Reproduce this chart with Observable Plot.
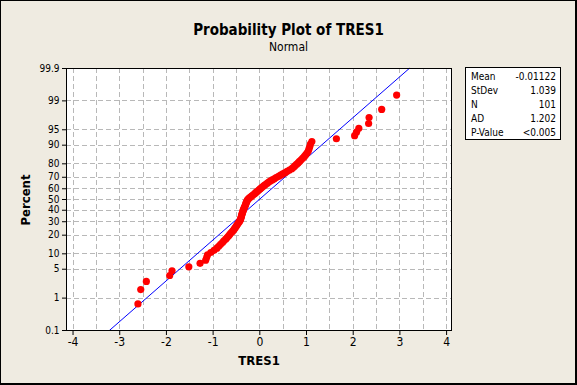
<!DOCTYPE html>
<html><head><meta charset="utf-8">
<script src="https://cdn.jsdelivr.net/npm/d3@7"></script>
<script src="https://cdn.jsdelivr.net/npm/@observablehq/plot@0.6"></script>
<style>
html,body{margin:0;padding:0;background:#EFEBE1;}
#wrap{position:relative;width:577px;height:385px;background:#EFEBE1;overflow:hidden;font-family:"DejaVu Sans Condensed","DejaVu Sans",sans-serif;color:#000;}
#border{position:absolute;left:0;top:0;width:577px;height:385px;box-sizing:border-box;border:1px solid #000;border-right-width:2px;border-bottom-width:2px;pointer-events:none;}
#chart{position:absolute;left:0;top:0;}
#title{position:absolute;left:0;top:21px;width:577px;text-align:center;font-weight:bold;font-size:15px;line-height:18px;}
#subtitle{position:absolute;left:0;top:40px;width:577px;text-align:center;font-size:12px;line-height:15px;}
#ylab{position:absolute;left:25px;top:200px;transform:translate(-50%,-50%) rotate(-90deg);font-weight:bold;font-size:13px;white-space:nowrap;}
#xlab{position:absolute;left:259px;top:360px;transform:translate(-50%,-50%);font-weight:bold;font-size:13px;}
#stats{position:absolute;left:465px;top:67px;width:96px;height:73px;box-sizing:border-box;background:#fff;border:1px solid #000;padding:2px 4px 0 5px;font-size:10px;line-height:14px;}
.row{display:flex;justify-content:space-between;}
</style>
</head><body>
<div id="wrap">
  <div id="chart"></div>
  <div id="title">Probability Plot of TRES1</div>
  <div id="subtitle">Normal</div>
  <div id="ylab">Percent</div>
  <div id="xlab">TRES1</div>
  <div id="stats"></div>
  <div id="border"></div>
</div>
<script>
// Sorted residuals (TRES1)
const tres1 = [
 -2.61,-2.55,-2.43,-1.93,-1.88,-1.52,-1.28,-1.16,-1.14,-1.12,
 -1.05,-0.98,-0.92,-0.88,-0.84,-0.80,-0.77,-0.73,-0.70,-0.67,
 -0.645,-0.62,-0.59,-0.565,-0.545,-0.525,-0.505,-0.49,-0.47,-0.455,
 -0.435,-0.42,-0.41,-0.405,-0.395,-0.39,-0.385,-0.375,-0.37,-0.36,
 -0.355,-0.345,-0.335,-0.325,-0.315,-0.305,-0.30,-0.29,-0.28,-0.27,
 -0.26,-0.235,-0.21,-0.18,-0.155,-0.125,-0.10,-0.075,-0.045,-0.02,
 0.005,0.035,0.06,0.09,0.12,0.155,0.185,0.22,0.265,0.31,
 0.35,0.40,0.445,0.49,0.54,0.585,0.635,0.685,0.72,0.75,
 0.785,0.82,0.85,0.885,0.92,0.955,0.985,1.015,1.04,1.055,
 1.07,1.085,1.115,1.64,2.03,2.07,2.12,2.33,2.34,2.61,
 2.93
];
const pctTicks = [0.1,1,5,10,20,30,40,50,60,70,80,90,95,99,99.9];
const xTicks = [-4,-3,-2,-1,0,1,2,3,4];
const xGrid = [-4,-3.5,-3,-2.5,-2,-1.5,-1,-0.5,0,0.5,1,1.5,2,2.5,3,3.5,4];
const statLabels = ["Mean","StDev","N","AD","P-Value"];
const statValues = ["-0.01122","1.039","101","1.202","<0.005"];
const fitMean = -0.01122, fitSD = 1.039;

// inverse standard normal CDF (Acklam)
function invNorm(p){
  const a=[-3.969683028665376e+01,2.209460984245205e+02,-2.759285104469687e+02,1.383577518672690e+02,-3.066479806614716e+01,2.506628277459239e+00];
  const b=[-5.447609879822406e+01,1.615858368580409e+02,-1.556989798598866e+02,6.680131188771972e+01,-1.328068155288572e+01];
  const c=[-7.784894002430293e-03,-3.223964580411365e-01,-2.400758277161838e+00,-2.549732539343734e+00,4.374664141464968e+00,2.938163982698783e+00];
  const d=[7.784695709041462e-03,3.224671290700398e-01,2.445134137142996e+00,3.754408661907416e+00];
  const pl=0.02425, ph=1-pl; let q,r;
  if(p<pl){q=Math.sqrt(-2*Math.log(p));return (((((c[0]*q+c[1])*q+c[2])*q+c[3])*q+c[4])*q+c[5])/((((d[0]*q+d[1])*q+d[2])*q+d[3])*q+1);}
  if(p<=ph){q=p-0.5;r=q*q;return (((((a[0]*r+a[1])*r+a[2])*r+a[3])*r+a[4])*r+a[5])*q/(((((b[0]*r+b[1])*r+b[2])*r+b[3])*r+b[4])*r+1);}
  q=Math.sqrt(-2*Math.log(1-p));return -(((((c[0]*q+c[1])*q+c[2])*q+c[3])*q+c[4])*q+c[5])/((((d[0]*q+d[1])*q+d[2])*q+d[3])*q+1);
}

const n = tres1.length;
const sorted = tres1.slice().sort((a,b)=>a-b);
const points = sorted.map((v,i)=>({x:v, z:invNorm((i+1-0.3)/(n+0.4))}));
const zTicks = pctTicks.map(p=>invNorm(p/100));
const zLo = zTicks[0], zHi = zTicks[zTicks.length-1];
const fit = [zLo, zHi].map(z=>({z, x: fitMean + fitSD*z}));
const gridZ = zTicks.slice(1, -1);

const chart = Plot.plot({
  width:577, height:385,
  marginLeft:66, marginRight:126, marginTop:68, marginBottom:55,
  style:{background:"transparent", fontFamily:'"DejaVu Sans Condensed","DejaVu Sans",sans-serif', fontSize:"10px", color:"#000"},
  x:{domain:[-4.14,4.105]},
  y:{domain:[zLo,zHi]},
  marks:[
    Plot.frame({fill:"white", stroke:null}),
    Plot.ruleX(xGrid, {stroke:"#b8b8b8", strokeDasharray:"5,3", shapeRendering:"crispEdges"}),
    Plot.ruleY(gridZ, {stroke:"#b8b8b8", strokeDasharray:"5,3", shapeRendering:"crispEdges"}),
    Plot.line(fit, {x:"x", y:"z", stroke:"#0000ff", strokeWidth:1}),
    Plot.dot(points, {x:"x", y:"z", r:3.6, fill:"#ff0000", stroke:null}),
    Plot.frame({stroke:"#000", shapeRendering:"crispEdges"}),
    Plot.axisX(xTicks, {tickSize:5, tickPadding:2, label:null, fontSize:12, tickFormat:d=>String(d)}),
    Plot.axisY(zTicks, {tickSize:4, tickPadding:3, label:null, fontSize:10,
      tickFormat:d=>String(pctTicks[zTicks.indexOf(d)])})
  ]
});
document.getElementById("chart").appendChild(chart);

const stats = document.getElementById("stats");
statLabels.forEach((l,i)=>{
  const row = document.createElement("div"); row.className="row";
  const a = document.createElement("span"); a.textContent = l;
  const b = document.createElement("span"); b.textContent = statValues[i];
  row.appendChild(a); row.appendChild(b); stats.appendChild(row);
});
</script>
</body></html>
